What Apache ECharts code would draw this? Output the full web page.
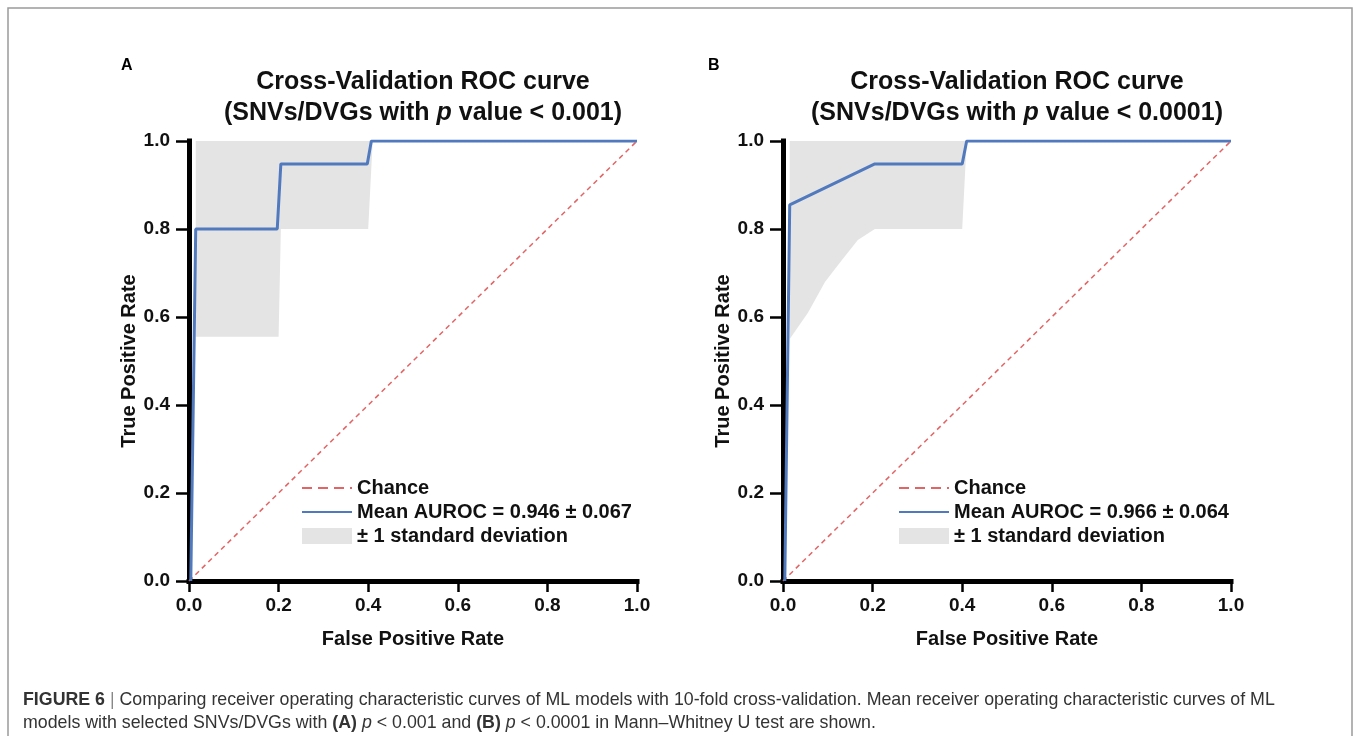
<!DOCTYPE html>
<html>
<head>
<meta charset="utf-8">
<script src="https://cdn.jsdelivr.net/npm/echarts@6/dist/echarts.min.js"></script>
<style>
  html, body { margin: 0; padding: 0; background: #fff; }
  #myChart { width: 1355px; height: 736px; }
</style>
</head>
<body>
<div id="myChart"></div>
<script>
// ---- data ----
var chanceX = [0, 1];
var chanceY = [0, 1];

// panel A (p < 0.001)
var meanAX = [0.004, 0.015, 0.197, 0.205, 0.398, 0.407, 1.0];
var meanAY = [0.0, 0.8, 0.8, 0.948, 0.948, 1.0, 1.0];
var bandAX = [0.015, 0.2, 0.205, 0.4, 0.41, 1.0];
var bandAUpper = [1.0, 1.0, 1.0, 1.0, 1.0, 1.0];
var bandALower = [0.555, 0.555, 0.8, 0.8, 1.0, 1.0];

// panel B (p < 0.0001)
var meanBX = [0.004, 0.015, 0.205, 0.4, 0.41, 1.0];
var meanBY = [0.0, 0.855, 0.948, 0.948, 1.0, 1.0];
var bandBX = [0.015, 0.056, 0.094, 0.132, 0.167, 0.205, 0.4, 0.41, 1.0];
var bandBUpper = [1.0, 1.0, 1.0, 1.0, 1.0, 1.0, 1.0, 1.0, 1.0];
var bandBLower = [0.55, 0.61, 0.68, 0.73, 0.775, 0.8, 0.8, 1.0, 1.0];

var legendChance = 'Chance';
var legendMeanA = 'Mean AUROC = 0.946 \u00b1 0.067';
var legendMeanB = 'Mean AUROC = 0.966 \u00b1 0.064';
var legendStd = '\u00b1 1 standard deviation';

var FONT = '"Liberation Sans", Arial, sans-serif';
var BLUE = '#5079be';
var RED = '#e36464';
var GREY = '#e4e4e4';

function pairs(xs, ys) {
  return xs.map(function (x, i) { return [x, ys[i]]; });
}

function bandSeries(idx, xs, upper, lower) {
  return {
    name: legendStd,
    type: 'custom',
    xAxisIndex: idx,
    yAxisIndex: idx,
    z: 1,
    silent: true,
    itemStyle: { color: GREY },
    data: [0],
    renderItem: function (params, api) {
      var pts = [];
      for (var i = 0; i < xs.length; i++) pts.push(api.coord([xs[i], upper[i]]));
      for (var j = xs.length - 1; j >= 0; j--) pts.push(api.coord([xs[j], lower[j]]));
      return { type: 'polygon', shape: { points: pts }, style: { fill: GREY } };
    }
  };
}

function xAxisOf(idx) {
  return {
    gridIndex: idx, type: 'value', min: 0, max: 1, interval: 0.2,
    name: 'False Positive Rate', nameLocation: 'middle', nameGap: 48,
    nameTextStyle: { fontFamily: FONT, fontWeight: 'bold', fontSize: 20, color: '#111' },
    axisLine: { onZero: false, lineStyle: { color: '#000', width: 5, cap: 'square' } },
    axisTick: { length: 11, lineStyle: { color: '#000', width: 2.5 } },
    axisLabel: { margin: 15, fontFamily: FONT, fontWeight: 'bold', fontSize: 19, color: '#111',
      formatter: function (v) { return v.toFixed(1); } },
    splitLine: { show: false }
  };
}

function yAxisOf(idx) {
  return {
    gridIndex: idx, type: 'value', min: 0, max: 1, interval: 0.2,
    name: 'True Positive Rate', nameLocation: 'middle', nameGap: 50,
    nameTextStyle: { fontFamily: FONT, fontWeight: 'bold', fontSize: 20, color: '#111' },
    axisLine: { show: true, onZero: false, lineStyle: { color: '#000', width: 5, cap: 'square' } },
    axisTick: { show: true, length: 13, lineStyle: { color: '#000', width: 2.5 } },
    axisLabel: { margin: 19, fontFamily: FONT, fontWeight: 'bold', fontSize: 19, color: '#111',
      formatter: function (v) { return v.toFixed(1); } },
    splitLine: { show: false }
  };
}

function titleOf(left, pv) {
  return {
    left: left, top: 62, textAlign: 'center',
    text: '{a|Cross-Validation ROC curve}\n{a|(SNVs/DVGs with }{i|p}{a| value < ' + pv + ')}',
    textStyle: {
      rich: {
        a: { fontFamily: FONT, fontWeight: 'bold', fontSize: 25, color: '#111', lineHeight: 31 },
        i: { fontFamily: FONT, fontWeight: 'bold', fontStyle: 'italic', fontSize: 25, color: '#111', lineHeight: 31 }
      }
    }
  };
}

function legendOf(left, meanName) {
  return {
    left: left, top: 478, orient: 'vertical', padding: 0,
    itemWidth: 50, itemHeight: 16, itemGap: 4,
    selectedMode: false,
    textStyle: { fontFamily: FONT, fontWeight: 'bold', fontSize: 20, color: '#111' },
    data: [
      { name: legendChance, itemStyle: { opacity: 0 }, lineStyle: { width: 2, type: [10, 6] } },
      { name: meanName, itemStyle: { opacity: 0 }, lineStyle: { width: 2 } },
      { name: legendStd, icon: 'rect' }
    ]
  };
}

var option = {
  backgroundColor: '#fff',
  animation: false,
  title: [titleOf(418, '0.001'), titleOf(1012, '0.0001')],
  legend: [legendOf(301, legendMeanA), legendOf(898, legendMeanB)],
  grid: [
    { left: 189, right: 718, top: 141, bottom: 155 },
    { left: 783, right: 124, top: 141, bottom: 155 }
  ],
  xAxis: [xAxisOf(0), xAxisOf(1)],
  yAxis: [yAxisOf(0), yAxisOf(1)],
  series: [
    bandSeries(0, bandAX, bandAUpper, bandALower),
    { name: legendChance, type: 'line', xAxisIndex: 0, yAxisIndex: 0, z: 2, symbol: 'none',
      data: pairs(chanceX, chanceY), itemStyle: { color: RED },
      lineStyle: { color: RED, width: 1.5, type: [5, 4] } },
    { name: legendMeanA, type: 'line', xAxisIndex: 0, yAxisIndex: 0, z: 3, symbol: 'none',
      data: pairs(meanAX, meanAY), itemStyle: { color: BLUE },
      lineStyle: { color: BLUE, width: 3 } },

    bandSeries(1, bandBX, bandBUpper, bandBLower),
    { name: legendChance, type: 'line', xAxisIndex: 1, yAxisIndex: 1, z: 2, symbol: 'none',
      data: pairs(chanceX, chanceY), itemStyle: { color: RED },
      lineStyle: { color: RED, width: 1.5, type: [5, 4] } },
    { name: legendMeanB, type: 'line', xAxisIndex: 1, yAxisIndex: 1, z: 3, symbol: 'none',
      data: pairs(meanBX, meanBY), itemStyle: { color: BLUE },
      lineStyle: { color: BLUE, width: 3 } }
  ],
  graphic: [
    { type: 'rect', shape: { x: 8, y: 8, width: 1344, height: 800 },
      style: { fill: 'none', stroke: '#9a9a9a', lineWidth: 1.5 }, z: 0 },
    { type: 'text', left: 121, top: 58,
      style: { text: 'A', font: 'bold 16px ' + FONT, fill: '#000' } },
    { type: 'text', left: 708, top: 58,
      style: { text: 'B', font: 'bold 16px ' + FONT, fill: '#000' } },
    { type: 'text', left: 23, top: 691,
      style: {
        text: '{b|FIGURE 6} {s||} Comparing receiver operating characteristic curves of ML models with 10-fold cross-validation. Mean receiver operating characteristic curves of ML',
        font: '17.8px ' + FONT, fill: '#333',
        rich: { b: { fontWeight: 'bold', fontSize: 17.8, fontFamily: FONT, fill: '#333' },
                s: { fontSize: 17.8, fontFamily: FONT, fill: '#888' } }
      } },
    { type: 'text', left: 23, top: 714,
      style: {
        text: 'models with selected SNVs/DVGs with {b|(A)} {i|p} < 0.001 and {b|(B)} {i|p} < 0.0001 in Mann\u2013Whitney U test are shown.',
        font: '17.8px ' + FONT, fill: '#333',
        rich: { b: { fontWeight: 'bold', fontSize: 17.8, fontFamily: FONT, fill: '#333' },
                i: { fontStyle: 'italic', fontSize: 17.8, fontFamily: FONT, fill: '#333' } }
      } }
  ]
};

var myChart = echarts.init(document.getElementById('myChart'));
myChart.setOption(option);
</script>
</body>
</html>
